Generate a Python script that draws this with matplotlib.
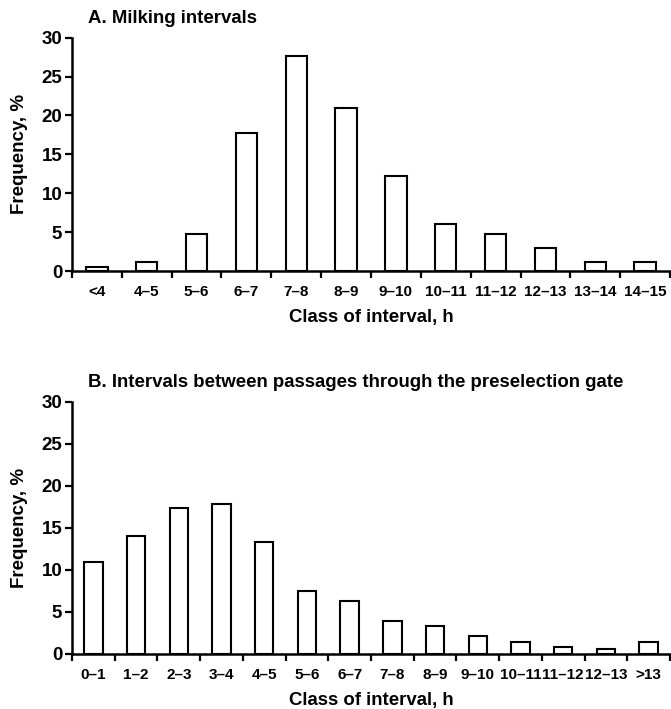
import matplotlib
matplotlib.use('Agg')
import matplotlib.pyplot as plt
import numpy as np

plt.rcParams['font.family'] = ['Liberation Sans', 'DejaVu Sans']
plt.rcParams['font.weight'] = 'bold'

# panel A: milking intervals
milk_classes = ['<4', '4\u20135', '5\u20136', '6\u20137', '7\u20138', '8\u20139', '9\u201310',
                '10\u201311', '11\u201312', '12\u201313', '13\u201314', '14\u201315']
milk_freq = [0.5, 1.1, 4.7, 17.7, 27.6, 20.9, 12.2, 6.1, 4.7, 2.9, 1.1, 1.1]

# panel B: passages through the preselection gate
gate_classes = ['0\u20131', '1\u20132', '2\u20133', '3\u20134', '4\u20135', '5\u20136', '6\u20137',
                '7\u20138', '8\u20139', '9\u201310', '10\u201311', '11\u201312', '12\u201313', '>13']
gate_freq = [11.0, 14.1, 17.4, 17.8, 13.3, 7.5, 6.3, 3.9, 3.3, 2.1, 1.4, 0.8, 0.6, 1.4]

W, H = 671, 709
fig = plt.figure(figsize=(W / 100, H / 100), dpi=100)


def panel(top_px, bottom_px, classes, freq, title, title_y):
    left, right = 72, 670
    ax = fig.add_axes([left / W, 1 - bottom_px / H, (right - left) / W, (bottom_px - top_px) / H])
    n = len(classes)
    x = np.arange(n)
    ax.bar(x, freq, width=0.43, color='white', edgecolor='black', linewidth=1.5)
    ax.set_xlim(-0.5, n - 0.5)
    ax.set_ylim(0, 30)
    ax.set_yticks([0, 5, 10, 15, 20, 25, 30])
    ax.tick_params(axis='y', labelsize=13.5, width=1.6, length=5, pad=2)
    # tick marks on class boundaries, labels in the middle
    ax.set_xticks(np.arange(n + 1) - 0.5)
    ax.set_xticklabels([])
    ax.set_xticks(x, minor=True)
    ax.set_xticklabels(classes, minor=True)
    ax.tick_params(axis='x', which='major', width=1.6, length=5)
    ax.tick_params(axis='x', which='minor', length=0, labelsize=11, pad=10)
    for s in ['top', 'right']:
        ax.spines[s].set_visible(False)
    for s in ['left', 'bottom']:
        ax.spines[s].set_linewidth(1.8)
    ax.set_ylabel('Frequency, %', fontsize=13.5, fontweight='bold', va='center')
    ax.yaxis.set_label_coords(-52 / (right - left), 0.5)
    ax.set_xlabel('Class of interval, h', fontsize=13.4, fontweight='bold')
    ax.xaxis.set_label_coords(0.5, -46 / (bottom_px - top_px), transform=ax.transAxes)
    ax.xaxis.label.set_va('center')
    fig.text(88 / W, 1 - title_y / H, title, fontsize=13.4, fontweight='bold', va='center', ha='left')
    return ax


panel(37.7, 271, milk_classes, milk_freq, 'A. Milking intervals', 18.5)
panel(402, 654, gate_classes, gate_freq,
      'B. Intervals between passages through the preselection gate', 382)

fig.savefig('out.png', dpi=100)
